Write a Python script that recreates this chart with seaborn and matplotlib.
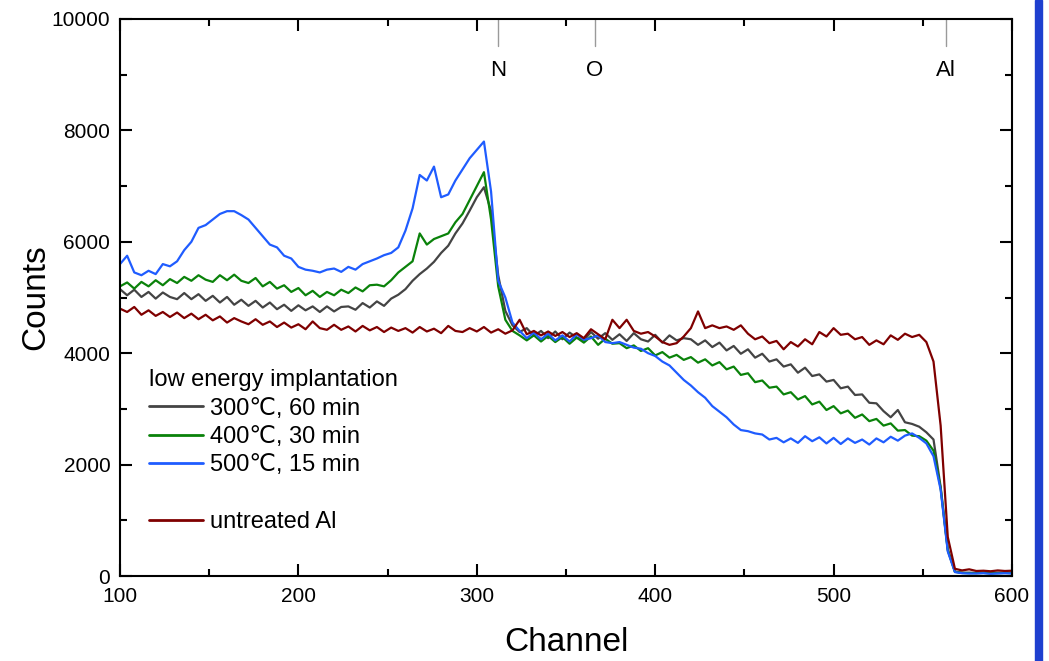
import numpy as np
import pandas as pd
import matplotlib
matplotlib.use("Agg")
import matplotlib.pyplot as plt
from matplotlib.lines import Line2D
from matplotlib.patches import Rectangle
import seaborn as sns

# -------------------------------
# Data (every 4th channel)
# -------------------------------
channel = np.arange(100, 601, 4)

counts_300C = [
    5150, 5040, 5140, 5010, 5100, 4980, 5090, 5010, 4970, 5080,
    4970, 5060, 4940, 5030, 4910, 5010, 4870, 4960, 4850, 4940,
    4820, 4910, 4790, 4870, 4760, 4860, 4770, 4840, 4740, 4840,
    4750, 4830, 4840, 4780, 4900, 4820, 4930, 4850, 4980, 5050,
    5150, 5300, 5420, 5520, 5640, 5800, 5930, 6150, 6330, 6560,
    6800, 6980, 6550, 5400, 4760, 4500, 4380, 4450, 4310, 4400,
    4270, 4390, 4250, 4370, 4280, 4230, 4380, 4260, 4360, 4240,
    4340, 4220, 4360, 4250, 4210, 4330, 4190, 4320, 4230, 4270,
    4250, 4150, 4230, 4110, 4190, 4050, 4130, 3990, 4070, 3920,
    3990, 3850, 3890, 3760, 3800, 3650, 3740, 3590, 3620, 3490,
    3520, 3370, 3400, 3250, 3260, 3110, 3100, 2960, 2850, 2980,
    2760, 2730, 2680, 2580, 2450, 1600, 480, 80, 60, 60,
    55, 65, 50, 60, 55, 60,
]

counts_400C = [
    5200, 5270, 5160, 5280, 5200, 5310, 5220, 5330, 5260, 5370,
    5300, 5400, 5320, 5280, 5400, 5310, 5410, 5300, 5260, 5350,
    5200, 5280, 5160, 5220, 5100, 5170, 5040, 5120, 5010, 5100,
    5040, 5140, 5080, 5180, 5110, 5220, 5230, 5200, 5310, 5450,
    5550, 5650, 6150, 5950, 6050, 6100, 6150, 6350, 6500, 6750,
    7000, 7250, 6400, 5200, 4600, 4400, 4320, 4230, 4320, 4210,
    4310, 4200, 4290, 4170, 4280, 4190, 4300, 4150, 4260, 4170,
    4180, 4090, 4140, 4040, 4090, 3960, 4020, 3920, 3970, 3880,
    3930, 3830, 3890, 3780, 3840, 3710, 3760, 3610, 3640, 3480,
    3510, 3380, 3400, 3260, 3300, 3170, 3230, 3080, 3130, 2980,
    3050, 2920, 2970, 2840, 2900, 2780, 2820, 2700, 2740, 2610,
    2620, 2520, 2510, 2430, 2250, 1580, 460, 75, 55, 50,
    50, 55, 45, 50, 55, 50,
]

counts_500C = [
    5600, 5750, 5450, 5400, 5480, 5420, 5600, 5560, 5650, 5850,
    6000, 6250, 6300, 6400, 6500, 6550, 6550, 6480, 6400, 6250,
    6100, 5950, 5900, 5750, 5700, 5550, 5500, 5480, 5450, 5500,
    5520, 5460, 5550, 5500, 5600, 5650, 5700, 5760, 5800, 5900,
    6200, 6600, 7200, 7100, 7350, 6800, 6850, 7100, 7300, 7500,
    7650, 7800, 6900, 5300, 5000, 4550, 4400, 4270, 4370, 4250,
    4350, 4230, 4320, 4210, 4340, 4240, 4270, 4320, 4200, 4180,
    4200, 4150, 4100, 4080, 4000, 3950, 3850, 3780, 3650, 3520,
    3420, 3300, 3200, 3050, 2950, 2850, 2720, 2620, 2600, 2560,
    2540, 2450, 2480, 2400, 2470, 2390, 2510, 2420, 2490, 2380,
    2480, 2370, 2470, 2390, 2450, 2360, 2470, 2400, 2500, 2430,
    2520, 2560, 2480, 2380, 2150, 1550, 440, 70, 50, 45,
    45, 50, 40, 45, 50, 45,
]

counts_untreated = [
    4800, 4740, 4830, 4690, 4770, 4670, 4740, 4650, 4730, 4630,
    4710, 4610, 4690, 4590, 4660, 4550, 4630, 4570, 4520, 4610,
    4510, 4570, 4470, 4550, 4460, 4520, 4430, 4570, 4450, 4420,
    4510, 4420, 4480, 4390, 4490, 4410, 4470, 4380, 4460, 4400,
    4450, 4370, 4470, 4390, 4440, 4360, 4490, 4400, 4380, 4450,
    4390, 4470, 4370, 4430, 4350, 4410, 4600, 4340, 4400, 4320,
    4390, 4310, 4380, 4290, 4360, 4270, 4430, 4340, 4250, 4600,
    4450, 4600, 4400, 4350, 4380, 4300, 4200, 4150, 4180, 4300,
    4450, 4750, 4450, 4500, 4450, 4480, 4420, 4500, 4350, 4250,
    4300, 4180, 4220, 4070, 4200, 4120, 4250, 4160, 4380, 4300,
    4450, 4330, 4350, 4250, 4290, 4150, 4230, 4160, 4320, 4240,
    4350, 4290, 4330, 4200, 3850, 2700, 700, 130, 100, 120,
    90, 95, 85, 100, 90, 95,
]

series_labels = ["300\u2103, 60 min", "400\u2103, 30 min", "500\u2103, 15 min", "untreated Al"]
series_colors = ["#444444", "#0a820a", "#1f5cff", "#7f0000"]

element_names = ["N", "O", "Al"]
element_channels = [312, 366, 563]

# -------------------------------
# Plot
# -------------------------------
sns.set_style("ticks")
plt.rcParams["font.family"] = ["Liberation Sans", "DejaVu Sans"]
plt.rcParams.update({"text.color": "black", "axes.labelcolor": "black",
                     "xtick.color": "black", "ytick.color": "black",
                     "axes.edgecolor": "black"})

fig = plt.figure(figsize=(10.49, 6.61), dpi=100)
ax = fig.add_axes([120 / 1049, 1 - 576 / 661, 892 / 1049, 557 / 661])

all_series = [counts_300C, counts_400C, counts_500C, counts_untreated]
for vals, lab, col in zip(all_series, series_labels, series_colors):
    sns.lineplot(x=channel, y=vals, color=col, lw=1.6, ax=ax, label=lab)

# element surface edge markers
for ch, name in zip(element_channels, element_names):
    ax.plot([ch, ch], [10000, 9520], color="#9a9a9a", lw=1)
    ax.text(ch, 9080, name, ha="center", va="center", fontsize=16)

ax.set_xlim(100, 600)
ax.set_ylim(0, 10000)
ax.set_xticks(range(100, 601, 100))
ax.set_xticks(range(150, 600, 100), minor=True)
ax.set_yticks(range(0, 10001, 2000))
ax.set_yticks(range(1000, 10000, 2000), minor=True)
ax.tick_params(which="both", direction="in", top=True, right=True, width=1.5, labelsize=15)
ax.tick_params(which="major", length=8.5)
ax.tick_params(which="minor", length=5)
ax.tick_params(axis="x", pad=8)
ax.tick_params(axis="y", pad=7)
for sp in ax.spines.values():
    sp.set_linewidth(1.5)

ax.set_xlabel("Channel", fontsize=24, labelpad=15)
ax.set_ylabel("Counts", fontsize=24, labelpad=0)

# legend with a gap before the reference spectrum
lines = ax.get_lines()[:4]
blank = Line2D([], [], color="none")
handles = [lines[0], lines[1], lines[2], blank, lines[3]]
labels = series_labels[:3] + [""] + [series_labels[3]]
leg = ax.legend(handles, labels, title="low energy implantation", loc="upper left",
                bbox_to_anchor=(0.033, 0.371), frameon=False, fontsize=17, title_fontsize=17,
                alignment="left", borderpad=0, borderaxespad=0, handlelength=2.25,
                handletextpad=0.3, labelspacing=0.27)
for h in leg.legend_handles:
    h.set_linewidth(2)

# blue slide edge on the right
fig.patches.append(Rectangle((1035 / 1049, 0), 7 / 1049, 1, transform=fig.transFigure,
                             color="#1e3fcf", zorder=0))

fig.savefig("out.png", dpi=100)
